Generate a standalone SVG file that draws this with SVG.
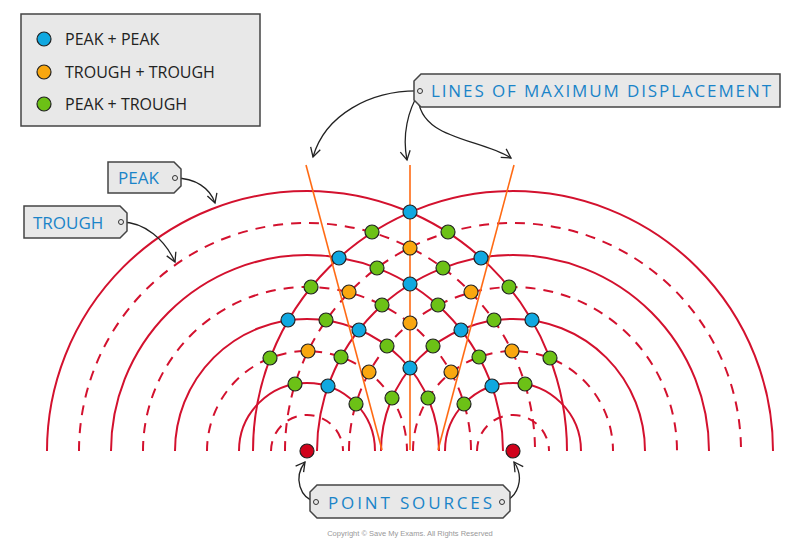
<svg xmlns="http://www.w3.org/2000/svg" width="799" height="546" viewBox="0 0 799 546">
<style>
.p{fill:none;stroke:#d3112e;stroke-width:2}
.t{fill:none;stroke:#d3112e;stroke-width:2;stroke-dasharray:10 8}
.o{stroke:#ff6a13;stroke-width:1.6}
.d{stroke:#222;stroke-width:1.2}
.B{fill:#10a8e0}.O{fill:#f9a70f}.G{fill:#6cc116}.R{fill:#d0021b}
.tag{fill:#e8e8e8;stroke:#444;stroke-width:1.5}
.lbl{font-family:"Open Sans","Liberation Sans",sans-serif;font-size:17px;fill:#1a84c8}
.leg{font-family:"Open Sans","Liberation Sans",sans-serif;font-size:16px;fill:#222}
.ar{fill:none;stroke:#222;stroke-width:1.3}
</style>
<defs>
<marker id="ah" viewBox="0 0 12 12" refX="10" refY="6" markerWidth="12" markerHeight="12" markerUnits="userSpaceOnUse" orient="auto">
<path d="M1 1 L10 6 L1 11" fill="none" stroke="#222" stroke-width="1.3"/>
</marker>
</defs>
<g id="legend">
<rect x="21" y="14" width="239" height="112" class="tag"/>
<circle cx="44" cy="39" r="7" class="B d"/><text x="65" y="45" class="leg">PEAK + PEAK</text>
<circle cx="44" cy="72" r="7" class="O d"/><text x="65" y="78" class="leg">TROUGH + TROUGH</text>
<circle cx="44" cy="104" r="7" class="G d"/><text x="65" y="110" class="leg">PEAK + TROUGH</text>
</g>
<g id="waves">
<path class="p" d="M47 451 A260 260 0 0 1 567 451"/>
<path class="t" d="M79 451 A228 228 0 0 1 535 451"/>
<path class="p" d="M111 451 A196 196 0 0 1 503 451"/>
<path class="t" d="M143 451 A164 164 0 0 1 471 451"/>
<path class="p" d="M175 451 A132 132 0 0 1 439 451"/>
<path class="t" d="M207 451 A100 100 0 0 1 407 451"/>
<path class="p" d="M239 451 A68 68 0 0 1 375 451"/>
<path class="t" d="M271 451 A36 36 0 0 1 343 451"/>
<path class="p" d="M253 451 A260 260 0 0 1 773 451"/>
<path class="t" d="M285 451 A228 228 0 0 1 741 451"/>
<path class="p" d="M317 451 A196 196 0 0 1 709 451"/>
<path class="t" d="M349 451 A164 164 0 0 1 677 451"/>
<path class="p" d="M381 451 A132 132 0 0 1 645 451"/>
<path class="t" d="M413 451 A100 100 0 0 1 613 451"/>
<path class="p" d="M445 451 A68 68 0 0 1 581 451"/>
<path class="t" d="M477 451 A36 36 0 0 1 549 451"/>
</g>
<g id="maxlines">
<line class="o" x1="410" y1="165" x2="410" y2="450"/>
<line class="o" x1="306" y1="165" x2="382" y2="450"/>
<line class="o" x1="514" y1="165" x2="438" y2="450"/>
</g>
<g id="dots" class="d">
<circle cx="410" cy="212" r="7" class="B d"/><circle cx="410" cy="248" r="7" class="O d"/><circle cx="410" cy="284" r="7" class="B d"/><circle cx="410" cy="323" r="7" class="O d"/><circle cx="410" cy="368" r="7" class="B d"/>
<circle cx="372" cy="232" r="7" class="G d"/><circle cx="448" cy="232" r="7" class="G d"/>
<circle cx="377" cy="268" r="7" class="G d"/><circle cx="443" cy="268" r="7" class="G d"/>
<circle cx="382" cy="305" r="7" class="G d"/><circle cx="438" cy="305" r="7" class="G d"/>
<circle cx="387" cy="346" r="7" class="G d"/><circle cx="433" cy="346" r="7" class="G d"/>
<circle cx="392" cy="398" r="7" class="G d"/><circle cx="428" cy="398" r="7" class="G d"/>
<circle cx="339" cy="258" r="7" class="B d"/><circle cx="481" cy="258" r="7" class="B d"/>
<circle cx="349" cy="292" r="7" class="O d"/><circle cx="471" cy="292" r="7" class="O d"/>
<circle cx="359" cy="330" r="7" class="B d"/><circle cx="461" cy="330" r="7" class="B d"/>
<circle cx="369" cy="372" r="7" class="O d"/><circle cx="451" cy="372" r="7" class="O d"/>
<circle cx="311" cy="287" r="7" class="G d"/><circle cx="509" cy="287" r="7" class="G d"/>
<circle cx="326" cy="320" r="7" class="G d"/><circle cx="494" cy="320" r="7" class="G d"/>
<circle cx="341" cy="357" r="7" class="G d"/><circle cx="479" cy="357" r="7" class="G d"/>
<circle cx="356" cy="404" r="7" class="G d"/><circle cx="464" cy="404" r="7" class="G d"/>
<circle cx="288" cy="320" r="7" class="B d"/><circle cx="532" cy="320" r="7" class="B d"/>
<circle cx="308" cy="351" r="7" class="O d"/><circle cx="512" cy="351" r="7" class="O d"/>
<circle cx="328" cy="386" r="7" class="B d"/><circle cx="492" cy="386" r="7" class="B d"/>
<circle cx="270" cy="358" r="7" class="G d"/><circle cx="550" cy="358" r="7" class="G d"/>
<circle cx="295" cy="384" r="7" class="G d"/><circle cx="525" cy="384" r="7" class="G d"/>
</g>
<g id="sources">
<circle cx="307" cy="451" r="7" class="R d"/>
<circle cx="513" cy="451" r="7" class="R d"/>
</g>
<g id="connectors">
<path class="ar" marker-end="url(#ah)" d="M175 178 C195 178 210 188 215 203"/>
<path class="ar" marker-end="url(#ah)" d="M121 222 C145 222 165 240 175 262"/>
<path class="ar" marker-end="url(#ah)" d="M420 91 C370 90 325 115 313 157"/>
<path class="ar" marker-end="url(#ah)" d="M419 93 C408 110 402 135 407 160"/>
<path class="ar" marker-end="url(#ah)" d="M418 95 C418 140 480 138 511 158"/>
<path class="ar" marker-end="url(#ah)" d="M316 502 C300 498 293 478 305 462"/>
<path class="ar" marker-end="url(#ah)" d="M502 502 C518 498 525 478 514 462"/>
</g>
<g id="tag-peak">
<path class="tag" d="M108 162 H174 L181 169 V186 L174 193 H108 Z"/>
<circle cx="175" cy="178" r="2.5" fill="#e8e8e8" stroke="#333"/>
<text x="118" y="184" class="lbl">PEAK</text>
</g>
<g id="tag-trough">
<path class="tag" d="M24 206 H120 L127 213 V231 L120 238 H24 Z"/>
<circle cx="121" cy="222" r="2.5" fill="#e8e8e8" stroke="#333"/>
<text x="33" y="229" class="lbl">TROUGH</text>
</g>
<g id="tag-lines">
<path class="tag" d="M421 74 H780 V107 H421 L414 100 V81 Z"/>
<circle cx="420" cy="91" r="2.5" fill="#e8e8e8" stroke="#333"/>
<text x="431" y="97" class="lbl" textLength="340">LINES OF MAXIMUM DISPLACEMENT</text>
</g>
<g id="tag-sources">
<path class="tag" d="M317 485 H503 L510 492 V511 L503 518 H317 L310 511 V492 Z"/>
<circle cx="316" cy="502" r="2.5" fill="#e8e8e8" stroke="#333"/>
<circle cx="502" cy="502" r="2.5" fill="#e8e8e8" stroke="#333"/>
<text x="328" y="509" class="lbl" textLength="164">POINT SOURCES</text>
</g>
<text x="410" y="536" text-anchor="middle" font-family="Liberation Sans, sans-serif" font-size="7.5" fill="#999">Copyright © Save My Exams. All Rights Reserved</text>
</svg>
